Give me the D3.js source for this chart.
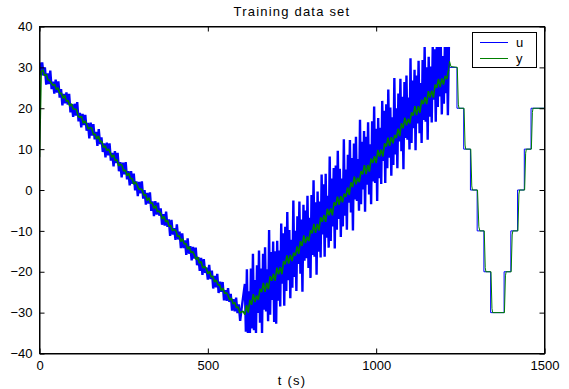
<!DOCTYPE html>
<html><head><meta charset="utf-8">
<script src="https://cdn.jsdelivr.net/npm/d3@7"></script>
<style>body{margin:0;background:#fff}svg text{font-family:Arial,"Liberation Sans",Helvetica,sans-serif;font-size:13px;fill:#000}</style>
</head><body><svg id="c" width="569" height="389"></svg>
<script>
// ---- data ----
const titleText = "Training data set";
const xLabelText = "t (s)";
const xTicks = [0, 500, 1000, 1500];
const yTicks = [-40, -30, -20, -10, 0, 10, 20, 30, 40];
const seriesNames = ["u", "y"];

// u : descending ramp (sampled every 4 s from t=0)
const uDescStart = 0, uDescStep = 4;
const uDesc = [31.2,28.1,31.2,28.0,30.0,25.8,28.5,25.9,29.2,24.7,
26.5,23.6,27.0,23.8,26.6,22.6,24.7,20.7,23.5,21.2,
23.9,20.9,23.5,19.0,21.0,17.9,21.1,18.2,21.5,16.8,
18.9,15.3,18.6,15.9,18.4,14.5,16.4,12.6,16.5,13.3,
16.1,12.4,14.2,10.8,14.9,11.2,12.9,9.3,11.4,8.0,
11.6,8.5,11.4,7.2,9.1,5.8,9.5,6.6,9.1,4.6,
6.8,3.1,6.7,3.8,6.8,2.6,4.6,1.1,4.6,1.5,
4.0,-0.1,2.1,-1.5,2.0,-0.8,2.1,-2.1,0.0,-3.6,
-0.7,-3.3,-0.6,-5.1,-2.8,-6.4,-2.7,-6.0,-3.1,-6.3,
-4.5,-8.5,-5.9,-8.7,-5.3,-9.0,-7.2,-11.2,-7.3,-10.9,
-9.3,-12.2,-8.4,-12.1,-10.2,-14.2,-10.6,-14.2,-12.3,-15.9,
-11.8,-15.6,-13.7,-17.2,-13.9,-16.8,-14.1,-18.4,-16.4,-19.8,
-16.6,-20.8,-16.9,-20.3,-19.0,-21.9,-18.3,-21.8,-19.7,-24.1,
-21.0,-23.8,-20.5,-25.2,-22.4,-24.9,-22.5,-27.0,-24.5,-27.1,
-24.0,-27.4,-25.4,-29.5,-26.7,-29.7,-26.3,-30.1,-28.0,-32.0,-29.2];

// u : rising noisy ramp (sampled every 3 s from t=610), saturates at +/-35
const uRiseStart = 610, uRiseStep = 3;
const uRise = [-23,-34.7,-19.4,-35,-24.8,-35,-19.2,-33.9,-15.6,-34.3,
-22,-35,-18.4,-30.1,-14.8,-32.5,-19.2,-35,-15.6,-29.3,
-14,-29.7,-19.4,-32.1,-9.8,-30.5,-15.2,-26.9,-12.6,-32.3,
-15,-32.7,-12.4,-27.1,-14.8,-28.5,-8.2,-22.9,-10.6,-28.3,
-9,-24.7,-5.4,-22.1,-9.8,-26.5,-12.2,-23.9,-2.6,-21.3,
-10,-24.7,-6.4,-18.1,-2.8,-20.5,-7.2,-24.9,-3.6,-17.3,
-5,-16.7,-1.4,-19.1,-6.8,-21.5,-1.2,-15.9,2.4,-16.3,
-3,-20.7,-0.4,-15.1,-2.8,-16.5,3.8,-10.9,1.4,-16.3,
4,-11.7,-1.4,-14.1,8.2,-12.5,2.8,-8.9,5.4,-14.3,
6,-9.7,9.6,-7.1,5.2,-11.5,2.8,-8.9,12.4,-6.3,
5,-9.7,8.6,-3.1,12.2,-5.5,7.8,-9.9,11.4,-2.3,
13,-2.7,7.6,-5.1,17.2,-3.5,11.8,0.1,14.4,-5.3,
13,1.3,16.6,-1.1,11.2,-3.5,16.8,2.1,20.4,1.7,
15,-2.7,17.6,2.9,15.2,1.5,21.8,7.1,19.4,1.7,
21,5.3,24.6,7.9,20.2,3.5,17.8,6.1,27.4,8.7,
20,5.3,23.6,11.9,27.2,9.5,22.8,5.1,26.4,12.7,
28,12.3,22.6,9.9,32.2,11.5,26.8,15.1,29.4,9.7,
28,16.3,31.6,13.9,26.2,11.5,31.8,17.1,35,16.7,
30,12.3,32.6,17.9,30.2,16.5,35,22.1,34.4,16.7,
35,20.3,35,22.9,35,18.5,32.8,21.1,35,23.7,
35,18.3,35];

// u : staircase section [t, value]
const uSteps = [[1218,30],[1240,30],[1240,20],[1260,20],[1260,10],[1280,10],[1280,0],[1300,0],
[1300,-10],[1320,-10],[1320,-20],[1340,-20],[1340,-30],[1380,-30],[1380,-20],[1400,-20],
[1400,-10],[1420,-10],[1420,0],[1440,0],[1440,10],[1460,10],[1460,20],[1500,20]];

// y : descending part (every 5 s from t=0)
const yDescStart = 0, yDescStep = 5;
const yDesc = [8,29.0,29.4,28.0,28.3,27.0,26.8,26.2,25.6,25.9,24.6,
25.0,23.6,23.7,22.4,23.2,21.7,21.9,20.5,21.1,19.8,
19.8,19.6,18.0,17.8,18.0,16.3,16.9,16.1,14.9,15.3,
15.1,13.6,13.7,12.5,13.2,11.8,11.9,10.4,10.8,9.7,
10.0,9.2,8.0,8.6,7.2,7.4,5.9,6.3,6.0,4.6,
4.9,3.5,4.1,2.8,2.8,1.4,2.0,1.2,0.1,0.3,
0.0,-1.3,-1.1,-2.6,-1.9,-3.2,-3.2,-4.5,-3.8,-5.3,
-5.1,-5.8,-7.1,-6.5,-7.8,-7.4,-8.9,-8.7,-10.0,-9.6,
-10.0,-11.4,-11.2,-12.6,-11.9,-13.2,-13.1,-14.5,-13.9,-15.3,
-15.1,-15.9,-17.0,-16.4,-17.9,-17.5,-19.1,-18.7,-19.1,-20.5,
-19.9,-21.3,-21.1,-22.5,-22.0,-23.2,-23.2,-24.6,-24.0,-25.3,
-25.1,-25.8,-27.0,-26.4,-27.9,-27.5,-28.8,-28.6,-30.1,-29.8];

// y : rising part (every 5 s from t=605)
const yRiseStart = 605, yRiseStep = 5;
const yRise = [-29.7,-30.5,-28.2,-30.0,-26.9,-28.1,-25.5,-27.4,-25.8,-26.9,
-24.2,-25.0,-22.7,-24.9,-22.7,-24.3,-21.1,-22.2,-20.5,-22.2,
-19.0,-20.6,-18.9,-20.6,-17.4,-18.2,-16.0,-18.0,-15.9,-17.4,
-15.3,-16.1,-13.8,-15.6,-12.5,-13.7,-11.1,-13.0,-11.4,-12.5,
-9.8,-10.6,-8.3,-10.5,-8.3,-9.9,-6.7,-7.8,-6.1,-7.8,
-4.6,-6.2,-4.5,-6.2,-3.0,-3.8,-1.6,-3.6,-1.5,-3.0,
-0.9,-1.7,0.6,-1.2,1.9,0.7,3.3,1.4,3.0,1.9,
4.6,3.8,6.1,3.9,6.1,4.5,7.7,6.6,8.3,6.6,
9.8,8.2,9.9,8.2,11.4,10.6,12.8,10.8,12.9,11.4,
13.5,12.7,15.0,13.2,16.3,15.1,17.7,15.8,17.4,16.3,
19.0,18.2,20.5,18.3,20.5,18.9,22.1,21.0,22.7,21.0,
24.2,22.6,24.3,22.6,25.8,25.0,27.2,25.2,27.3,25.8,
27.9,27.1,29.4];

// y : staircase section [t, value]
const ySteps = [[1218,31.5],[1222,30.2],[1241,30],[1244,21],[1246,20],[1261,20],[1264,11],[1266,10],
[1281,10],[1284,1],[1286,0],[1301,0],[1305,-9],[1308,-10],[1321,-10],[1324,-19],[1326,-20],
[1341,-20],[1344,-29],[1346,-30],[1381,-30],[1384,-21],[1386,-20],[1401,-20],[1404,-11],[1406,-10],
[1421,-10],[1424,-1],[1426,0],[1441,0],[1444,9],[1446,10],[1461,10],[1464,19],[1466,20],[1500,20]];

// ---- build series ----
const sampled = (arr, t0, dt) => arr.map((v, i) => [t0 + i * dt, v]);
const uNoisy = sampled(uDesc, uDescStart, uDescStep).concat(sampled(uRise, uRiseStart, uRiseStep));
const uStair = [uNoisy[uNoisy.length - 1]].concat(uSteps);
const yNoisy = sampled(yDesc, yDescStart, yDescStep).concat(sampled(yRise, yRiseStart, yRiseStep));
const yStair = [yNoisy[yNoisy.length - 1]].concat(ySteps);

// ---- layout ----
const svg = d3.select("#c");
const L = 39.5, R = 544.5, T = 26.5, B = 353.5;
const x = d3.scaleLinear().domain([0, 1500]).range([L, R]);
const y = d3.scaleLinear().domain([-40, 40]).range([B, T]);
const colors = {u: "#0000ff", y: "#008000"};

svg.append("defs").append("clipPath").attr("id", "clip")
  .append("rect").attr("x", L).attr("y", T).attr("width", R - L).attr("height", B - T);

const line = d3.line().x(d => x(d[0])).y(d => y(d[1]));
const g = svg.append("g").attr("clip-path", "url(#clip)");
const drawLine = (data, color, w) => g.append("path").datum(data).attr("d", line).attr("fill", "none")
  .attr("stroke", color).attr("stroke-width", w).attr("stroke-linejoin", "bevel");
drawLine(uNoisy, colors.u, 2.4);
drawLine(uStair, colors.u, 1);
drawLine(yNoisy, colors.y, 1.6);
drawLine(yStair, colors.y, 1);

// axes (box with inward ticks on all sides)
const tl = 5;
const axB = svg.append("g").attr("transform", `translate(0,${B})`)
  .call(d3.axisBottom(x).tickValues(xTicks).tickSizeInner(-tl).tickSizeOuter(0).tickPadding(8).tickFormat(d3.format("d")));
const axT = svg.append("g").attr("transform", `translate(0,${T})`)
  .call(d3.axisTop(x).tickValues(xTicks).tickSizeInner(-tl).tickSizeOuter(0).tickFormat(""));
const axL = svg.append("g").attr("transform", `translate(${L},0)`)
  .call(d3.axisLeft(y).tickValues(yTicks).tickSizeInner(-tl).tickSizeOuter(0).tickPadding(7).tickFormat(d3.format("d")));
const axR = svg.append("g").attr("transform", `translate(${R},0)`)
  .call(d3.axisRight(y).tickValues(yTicks).tickSizeInner(-tl).tickSizeOuter(0).tickFormat(""));
[axB, axT, axL, axR].forEach(a => {
  a.selectAll("path.domain").attr("stroke", "#000").attr("stroke-width", 1);
  a.selectAll(".tick line").attr("stroke", "#000");
  a.selectAll("text").attr("font-size", 13).attr("font-family", "Arial, 'Liberation Sans', sans-serif").attr("fill", "#000");
});
axB.selectAll("text").attr("dy", "0.71em").attr("y", 7);
svg.append("rect").attr("x", L).attr("y", T).attr("width", R - L).attr("height", B - T)
  .attr("fill", "none").attr("stroke", "#000").attr("stroke-width", 1);

// title and label
svg.append("text").attr("x", (L + R) / 2).attr("y", 16).attr("text-anchor", "middle")
  .style("letter-spacing", "1.2px").text(titleText);
svg.append("text").attr("x", (L + R) / 2).attr("y", 385).attr("text-anchor", "middle")
  .style("letter-spacing", "1.2px").text(xLabelText);

// legend
const lg = svg.append("g");
lg.append("rect").attr("x", 472.5).attr("y", 32.5).attr("width", 64).attr("height", 35)
  .attr("fill", "#fff").attr("stroke", "#000").attr("stroke-width", 1);
seriesNames.forEach((n, i) => {
  const yy = 42.5 + i * 16;
  lg.append("line").attr("x1", 480).attr("x2", 508).attr("y1", yy).attr("y2", yy)
    .attr("stroke", colors[n]).attr("stroke-width", 1);
  lg.append("text").attr("x", 516).attr("y", yy + 4).text(n);
});
</script></body></html>
